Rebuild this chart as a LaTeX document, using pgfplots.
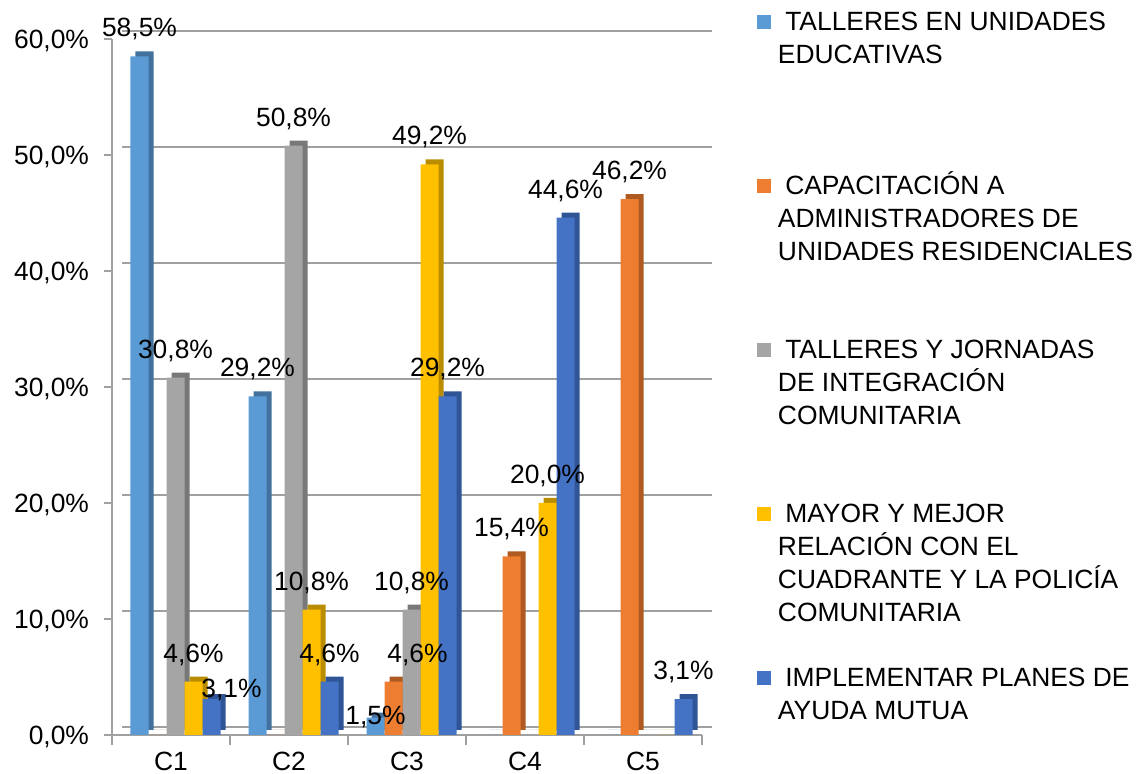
\documentclass[border=0pt]{standalone}
\usepackage{fontspec}
\setmainfont{Liberation Sans}
\usepackage{pgfplots}
\usepackage{pgfplotstable}
\pgfplotsset{compat=1.18}

\definecolor{sBlue}{HTML}{5B9BD5}
\definecolor{sBlueD}{HTML}{41719C}
\definecolor{sOrange}{HTML}{ED7D31}
\definecolor{sOrangeD}{HTML}{AE5A21}
\definecolor{sGray}{HTML}{A5A5A5}
\definecolor{sGrayD}{HTML}{787878}
\definecolor{sYellow}{HTML}{FFC000}
\definecolor{sYellowD}{HTML}{BA8C00}
\definecolor{sDBlue}{HTML}{4472C4}
\definecolor{sDBlueD}{HTML}{2F5597}
\definecolor{gridgray}{HTML}{A0A0A0}

% x: C1..C5 at 1..5, values in percent
\pgfplotstableread{
x blue orange gray yellow dblue
1 58.5 0    30.8 4.6  3.1
2 29.2 0    50.8 10.8 4.6
3 1.5  4.6  10.8 49.2 29.2
4 0    15.4 0    20.0 44.6
5 0    46.2 0    0    3.1
}\data

\newcommand{\lbl}{\pgfmathfloatifflags{\pgfplotspointmeta}{0}{}{\pgfmathprintnumber[fixed,fixed zerofill,precision=1,use comma]{\pgfplotspointmeta}\%}}
\newcommand{\entry}[1]{\parbox[t]{205pt}{\raggedright #1}}

\begin{document}
\begin{tikzpicture}[font=\fontsize{13.2}{16.5}\selectfont]
\useasboundingbox (-56pt,-19.5pt) rectangle (512pt,367.5pt);
\begin{axis}[
  at={(0pt,0pt)}, anchor=south west,
  scale only axis,
  width=295pt, height=348pt,
  ybar, bar width=9pt,
  xmin=0.5, xmax=5.5,
  ymin=0, ymax=60,
  clip=false,
  axis x line*=bottom, axis y line*=left,
  axis line style={gridgray, line width=0.9pt},
  xtick={1,2,3,4,5},
  xticklabels={C1,C2,C3,C4,C5},
  minor xtick={0.5,1.5,2.5,3.5,4.5,5.5},
  major x tick style={draw=none},
  minor x tick style={gridgray, line width=0.9pt},
  minor tick length=5pt,
  ytick={0,10,20,30,40,50,60},
  major y tick style={gridgray, line width=0.9pt},
  major tick length=4pt,
  tick align=outside,
  ymajorgrids,
  grid style={gridgray, line width=1pt, xshift=5pt, yshift=4pt},
  /pgf/number format/assume math mode=true,
  yticklabel={\pgfmathprintnumber[fixed,fixed zerofill,precision=1,use comma]{\tick}\%},
  yticklabel style={xshift=-4pt, yshift=-1pt},
  xticklabel style={yshift=-1pt},
  nodes near coords style={yshift=4.5pt},
  legend style={at={(1.0932,1)}, anchor=north west, yshift=14.5pt,
    draw=none, fill=none, inner sep=0pt, outer sep=0pt,
    nodes={inner sep=0pt, outer sep=0pt, text height=10pt, text depth=72pt},
    cells={anchor=base west}, column sep=3.5pt, row sep=0pt},
]
\addplot[forget plot, fill=sBlueD, draw=none, bar shift=-13.25pt, yshift=2.5pt] table[x=x,y=blue]{\data};
\addplot[fill=sBlue, draw=none, bar shift=-15.75pt, nodes near coords=\lbl,
  coordinate style/.condition={abs(x-3)<0.1}{yshift=-13pt},
  legend image code/.code={\fill[sBlue] (0pt,0.5pt) rectangle (7pt,7.5pt);}] table[x=x,y=blue]{\data};
\addlegendentry{\entry{\ TALLERES EN UNIDADES\newline EDUCATIVAS}}

\addplot[forget plot, fill=sOrangeD, draw=none, bar shift=-4.25pt, yshift=2.5pt] table[x=x,y=orange]{\data};
\addplot[fill=sOrange, draw=none, bar shift=-6.75pt, nodes near coords=\lbl,
  coordinate style/.condition={abs(x-3)<0.1}{xshift=12pt},
  legend image code/.code={\fill[sOrange] (0pt,0.5pt) rectangle (7pt,7.5pt);}] table[x=x,y=orange]{\data};
\addlegendentry{\entry{\ CAPACITACIÓN A\newline ADMINISTRADORES DE\newline UNIDADES RESIDENCIALES}}

\addplot[forget plot, fill=sGrayD, draw=none, bar shift=4.75pt, yshift=2.5pt] table[x=x,y=gray]{\data};
\addplot[fill=sGray, draw=none, bar shift=2.25pt, nodes near coords=\lbl,
  legend image code/.code={\fill[sGray] (0pt,0.5pt) rectangle (7pt,7.5pt);}] table[x=x,y=gray]{\data};
\addlegendentry{\entry{\ TALLERES Y JORNADAS\newline DE INTEGRACIÓN\newline COMUNITARIA}}

\addplot[forget plot, fill=sYellowD, draw=none, bar shift=13.75pt, yshift=2.5pt] table[x=x,y=yellow]{\data};
\addplot[fill=sYellow, draw=none, bar shift=11.25pt, nodes near coords=\lbl,
  legend image code/.code={\fill[sYellow] (0pt,0.5pt) rectangle (7pt,7.5pt);}] table[x=x,y=yellow]{\data};
\addlegendentry{\entry{\ MAYOR Y MEJOR\newline RELACIÓN CON EL\newline CUADRANTE Y LA POLICÍA\newline COMUNITARIA}}

\addplot[forget plot, fill=sDBlueD, draw=none, bar shift=22.75pt, yshift=2.5pt] table[x=x,y=dblue]{\data};
\addplot[fill=sDBlue, draw=none, bar shift=20.25pt, nodes near coords=\lbl,
  coordinate style/.condition={abs(x-1)<0.1}{xshift=10pt, yshift=-9pt},
  legend image code/.code={\fill[sDBlue] (0pt,0.5pt) rectangle (7pt,7.5pt);}] table[x=x,y=dblue]{\data};
\addlegendentry{\entry{\ IMPLEMENTAR PLANES DE\newline AYUDA MUTUA}}
\end{axis}
\end{tikzpicture}
\end{document}
